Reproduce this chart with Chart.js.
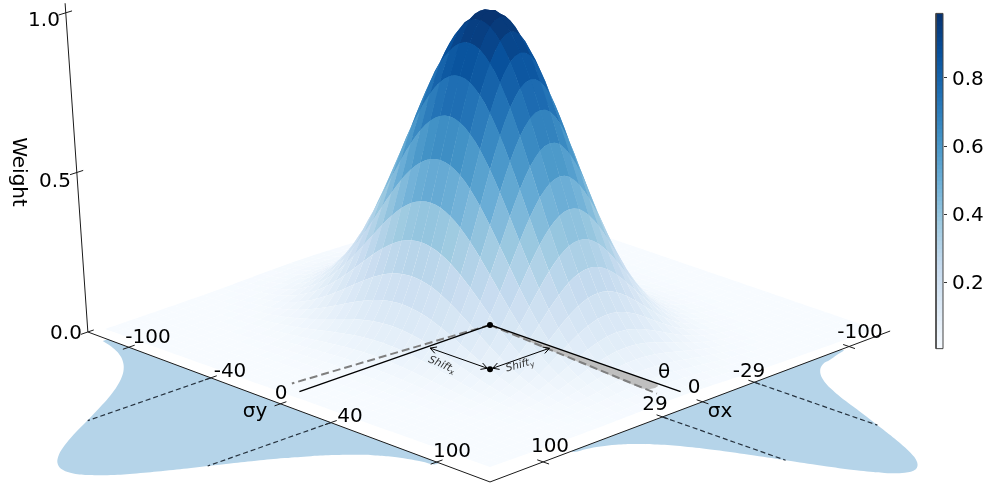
<!DOCTYPE html>
<html><head><meta charset="utf-8">
<style>html,body{margin:0;padding:0;background:#fff}canvas{display:block}</style>
<script src="https://cdn.jsdelivr.net/npm/chart.js@4"></script>
</head><body>
<canvas id="c" width="990" height="485"></canvas>
<script>
// ---- data ----
const gridHalf = [-100,-97.5,-95,-92.5,-90,-87.5,-85,-82.5,-80,-77.5,-75,-72.5,-70,-67.5,-65,-62.5,-60,-57.5,-55,-52.5,-50,-47.5,-45,-42.5,-40,-37.5,-35,-32.5,-30,-27.5,-25,-22.5,-20,-17.5,-15,-12.5,-10,-7.5,-5,-2.5,0];
const sigmaXWeightsHalf = [.0002,.0003,.0004,.0006,.0009,.0013,.0019,.0027,.0039,.0055,.0076,.0104,.0142,.0192,.0256,.0337,.044,.0567,.0723,.0914,.114,.141,.172,.2085,.249,.295,.345,.4,.458,.519,.581,.644,.707,.767,.823,.873,.917,.952,.979,.9946,1];
const sigmaYWeightsHalf = [.0076,.0097,.012,.0154,.019,.0238,.029,.0361,.044,.0533,.064,.0769,.091,.108,.127,.1487,.172,.199,.228,.2605,.295,.3325,.372,.414,.458,.5035,.55,.597,.644,.691,.737,.781,.823,.861,.896,.927,.952,.973,.988,.997,1];
const leftWallPos = [.05,.075,.1,.125,.15,.175,.2,.225,.25,.275,.3,.325,.35,.375,.4,.425,.45,.475,.5,.525,.55,.575,.6,.625,.65,.675,.7,.725,.75,.775,.8,.825,.85,.875];
const leftWallDepth = [.039,.061,.093,.136,.195,.271,.367,.484,.619,.771,.934,1.1,1.261,1.405,1.523,1.606,1.647,1.642,1.592,1.502,1.378,1.23,1.067,.901,.74,.591,.459,.347,.255,.182,.126,.085,.056,.036];
const rightWallPos = [.125,.15,.175,.2,.225,.25,.275,.3,.325,.35,.375,.4,.425,.45,.475,.5,.525,.55,.575,.6,.625,.65,.675,.7,.725,.75,.775,.8];
const rightWallDepth = [.024,.044,.07,.09,.15,.25,.4,.6,.828,1.044,1.255,1.44,1.575,1.644,1.636,1.553,1.406,1.215,1.001,.786,.59,.421,.288,.187,.116,.069,.039,.021];
const sigmaYTickPos = [.104,.311,.485,.61,.87];
const sigmaYTickLabels = ['-100','-40','0','40','100'];
const sigmaXTickPos = [.105,.345,.475,.575,.87];
const sigmaXTickLabels = ['-100','-29','0','29','100'];
const sigmaYDashPos = [.311,.61];
const sigmaXDashPos = [.345,.575];
const weightTicks = [0,.5,1];
const weightTickLabels = ['0.0','0.5','1.0'];
const colorbarTicks = [.2,.4,.6,.8];
const blues = ['#f7fbff','#deebf7','#c6dbef','#9ecae1','#6baed6','#4292c6','#2171b5','#08519c','#08306b'];
const frameLeft = [106.6,-102.2], frameFront = [110.6,110.6], frameRight = [-102.4,105.4];
const rotOrigin = [-3,-3], shiftPoint = [29.6,29.6];
const shiftXArrow = [[29.6,-1.4],[29.6,28.2]], shiftYArrow = [[-1.2,29.6],[28.2,29.6]];
const solidEnds = [[95,-3],[-3,95]];
const dashedEnds = [[91,-11],[4.5,90.3]];
const wedgeOutline = [[-3,-3],[-3.2,83],[-1.2,85.2],[.9,85.8],[3.4,85.2],[4.7,82.7]];

// ---- mirrored full lists ----
const surfaceGrid = [...gridHalf, ...gridHalf.slice(0,-1).reverse().map(v=>-v)];
const sigmaXWeights = [...sigmaXWeightsHalf, ...sigmaXWeightsHalf.slice(0,-1).reverse()];
const sigmaYWeights = [...sigmaYWeightsHalf, ...sigmaYWeightsHalf.slice(0,-1).reverse()];

// ---- viewing projection of (sigma x, sigma y, weight) into the chart's scales ----
function project(a,b,w){ w=w||0;
  const t=(a+b)/200, lat=(a-b)/200;
  return {x:490-385*lat/(1-.0222*t-.052*w), y:(329+127.6*t-319*w)/(1-.0222*t)};
}
function lerp(p,q,f){return [p[0]+(q[0]-p[0])*f,p[1]+(q[1]-p[1])*f];}
function hex(c){return [1,3,5].map(i=>parseInt(c.substr(i,2),16));}
function colorOf(v){
  const s=Math.min(Math.max(v,0),1)*(blues.length-1), i=Math.min(Math.floor(s),blues.length-2), f=s-i;
  const p=hex(blues[i]), q=hex(blues[i+1]);
  return 'rgb('+p.map((c,k)=>Math.round(c+(q[k]-c)*f)).join(',')+')';
}
const poly=(pts,color,extra)=>Object.assign({data:pts,showLine:true,fill:'shape',backgroundColor:color,borderWidth:0,pointRadius:0,clip:false},extra||{});
const line=(pts,color,width,dash,extra)=>Object.assign({data:pts,showLine:true,fill:false,borderColor:color,borderWidth:width,borderDash:dash||[],pointRadius:0,clip:false},extra||{});
const drawOrder=[];

// walls
const wallBlue='#b5d4e9', wallReach=62;
const leftEdge=f=>lerp(frameLeft,frameFront,f), rightEdge=f=>lerp(frameRight,frameFront,f);
{
  const pts=[];
  leftWallPos.forEach((f,i)=>{const e=leftEdge(f);pts.push(project(e[0]+wallReach*leftWallDepth[i],e[1]));});
  [...leftWallPos].reverse().forEach(f=>{const e=leftEdge(f);pts.push(project(e[0],e[1]));});
  drawOrder.push(poly(pts,wallBlue,{tension:.4}));
  const ptr=[];
  rightWallPos.forEach((f,i)=>{const e=rightEdge(f);ptr.push(project(e[0],e[1]+wallReach*rightWallDepth[i]));});
  [...rightWallPos].reverse().forEach(f=>{const e=rightEdge(f);ptr.push(project(e[0],e[1]));});
  drawOrder.push(poly(ptr,wallBlue,{tension:.4}));
}
// surface cells, back to front
const cells=[];
for(let i=0;i<surfaceGrid.length-2;i+=2)for(let j=0;j<surfaceGrid.length-2;j+=2)cells.push([i,j]);
cells.sort((p,q)=>(p[0]+p[1])-(q[0]+q[1]));
const W=(i,j)=>sigmaXWeights[i]*sigmaYWeights[j];
cells.forEach(([i,j])=>{
  const ring=[[i,j],[i+1,j],[i+2,j],[i+2,j+1],[i+2,j+2],[i+1,j+2],[i,j+2],[i,j+1]];
  const mean=(W(i,j)+W(i+2,j)+W(i+2,j+2)+W(i,j+2))/4;
  drawOrder.push(poly(ring.map(c=>project(surfaceGrid[c[0]],surfaceGrid[c[1]],W(c[0],c[1]))),colorOf(mean)));
});
// frame and axes
const ink='#1a1a1a';
drawOrder.push(line([project(...frameLeft),project(...frameFront),project(...frameRight)],ink,1));
drawOrder.push(line([project(...frameLeft),project(frameLeft[0],frameLeft[1],1.03)],ink,1));
weightTicks.forEach(w=>drawOrder.push(line([project(frameLeft[0]+3.5,frameLeft[1],w),project(frameLeft[0]-3,frameLeft[1],w)],ink,1)));
sigmaYTickPos.forEach(f=>{const e=leftEdge(f);drawOrder.push(line([project(e[0]+3,e[1]),project(e[0]-3,e[1])],ink,1));});
sigmaXTickPos.forEach(f=>{const e=rightEdge(f);drawOrder.push(line([project(e[0],e[1]-3),project(e[0],e[1]+3)],ink,1));});
const dashInk='#26323e';
sigmaYDashPos.forEach(f=>{const e=leftEdge(f);drawOrder.push(line([project(e[0],e[1]),project(e[0]+wallReach,e[1])],dashInk,1.2,[5,3]));});
sigmaXDashPos.forEach(f=>{const e=rightEdge(f);drawOrder.push(line([project(e[0],e[1]),project(e[0],e[1]+wallReach)],dashInk,1.2,[5,3]));});
// rotation annotations
drawOrder.push(poly(wedgeOutline.map(p=>project(p[0],p[1])),'#bfbfbf'));
dashedEnds.forEach(e=>drawOrder.push(line([project(...rotOrigin),project(...e)],'#7f7f7f',2,[8,4])));
solidEnds.forEach(e=>drawOrder.push(line([project(...rotOrigin),project(...e)],'#000',1.4)));
// shift arrows
function arrow(p,q){
  const P=project(...p),Q=project(...q);
  drawOrder.push(line([P,Q],'#000',1));
  const head=(tip,tail)=>{const ang=Math.atan2(tail.y-tip.y,tail.x-tip.x),s=7;
    drawOrder.push(line([{x:tip.x+s*Math.cos(ang+.5),y:tip.y+s*Math.sin(ang+.5)},tip,{x:tip.x+s*Math.cos(ang-.5),y:tip.y+s*Math.sin(ang-.5)}],'#000',1));};
  head(P,Q);head(Q,P);
}
arrow(...shiftXArrow);
arrow(...shiftYArrow);
drawOrder.push({data:[project(...rotOrigin),project(...shiftPoint)],showLine:false,pointRadius:3,pointBackgroundColor:'#000',pointBorderWidth:0,clip:false});
// colorbar
const cbLow=.004, cbHigh=.99, cbSteps=84;
for(let k=0;k<cbSteps;k++){
  const v0=cbLow+(cbHigh-cbLow)*k/cbSteps, v1=Math.min(cbHigh,cbLow+(cbHigh-cbLow)*(k+1)/cbSteps+.004);
  drawOrder.push(poly([{x:936,y:v0},{x:943,y:v0},{x:943,y:v1},{x:936,y:v1}],colorOf((v0+v1)/2),{yAxisID:'cb'}));
}
drawOrder.push(line([{x:936,y:cbLow},{x:943,y:cbLow},{x:943,y:cbHigh},{x:936,y:cbHigh},{x:936,y:cbLow}],'#444',1,[],{yAxisID:'cb'}));

// text
const F='"DejaVu Sans"';
const texts=[
 {t:weightTickLabels[2],x:44,y:21,s:20},{t:weightTickLabels[1],x:55,y:182,s:20},{t:weightTickLabels[0],x:66,y:334,s:20},
 {t:'Weight',x:18,y:172,s:20,r:Math.PI/2},
 {t:sigmaYTickLabels[0],x:148,y:338,s:20},{t:sigmaYTickLabels[1],x:230,y:372,s:20},{t:sigmaYTickLabels[2],x:281,y:394,s:20},
 {t:sigmaYTickLabels[3],x:350,y:417,s:20},{t:sigmaYTickLabels[4],x:452,y:452,s:20},
 {t:sigmaXTickLabels[0],x:860,y:333,s:20},{t:sigmaXTickLabels[1],x:749,y:372,s:20},{t:sigmaXTickLabels[2],x:694,y:388,s:20},
 {t:sigmaXTickLabels[3],x:655,y:405,s:20},{t:sigmaXTickLabels[4],x:550,y:447,s:20},
 {t:'σy',x:255,y:412,s:20},{t:'σx',x:720,y:412,s:20},{t:'θ',x:664,y:373,s:20},
 {t:'Shift',sub:'x',x:442,y:365,s:10.5,r:.42,i:true},{t:'Shift',sub:'y',x:520,y:365,s:10.5,r:-.27,i:true}
];
const textPlugin={id:'texts',afterDatasetsDraw(chart){
  const ctx=chart.ctx;ctx.save();ctx.fillStyle='#000';ctx.textBaseline='middle';
  texts.forEach(o=>{ctx.save();ctx.translate(o.x,o.y);if(o.r)ctx.rotate(o.r);
    const font=(o.i?'italic ':'')+o.s+'px '+F;ctx.font=font;
    if(o.sub){
      const w=ctx.measureText(o.t).width, sw=o.s*.45;
      ctx.textAlign='left';ctx.fillStyle='#333';ctx.fillText(o.t,-(w+sw)/2,0);
      ctx.font=(o.s*.7)+'px '+F;ctx.fillText(o.sub,-(w+sw)/2+w,o.s*.3);
    }else{ctx.textAlign='center';ctx.fillText(o.t,0,0);}
    ctx.restore();});
  ctx.restore();
}};

new Chart(document.getElementById('c'),{
  type:'scatter',
  data:{datasets:drawOrder.slice().reverse()},
  plugins:[textPlugin],
  options:{
    responsive:false,animation:false,events:[],
    layout:{padding:0,autoPadding:false},
    plugins:{legend:{display:false},tooltip:{enabled:false}},
    scales:{
      x:{type:'linear',min:0,max:944,display:false},
      y:{type:'linear',min:0,max:485,reverse:true,display:false},
      cb:{type:'linear',position:'right',min:-.397,max:1.0294,
        afterBuildTicks:s=>{s.ticks=colorbarTicks.map(v=>({value:v}));},
        afterFit:s=>{s.width=46;s.paddingTop=0;s.paddingBottom=0;},
        border:{display:false},
        grid:{drawOnChartArea:false,drawTicks:true,tickLength:3,color:'#333'},
        ticks:{color:'#000',padding:5,labelOffset:1.5,font:{family:'DejaVu Sans',size:20},callback:v=>v.toFixed(1)}
      }
    }
  }
});
</script>
</body></html>
